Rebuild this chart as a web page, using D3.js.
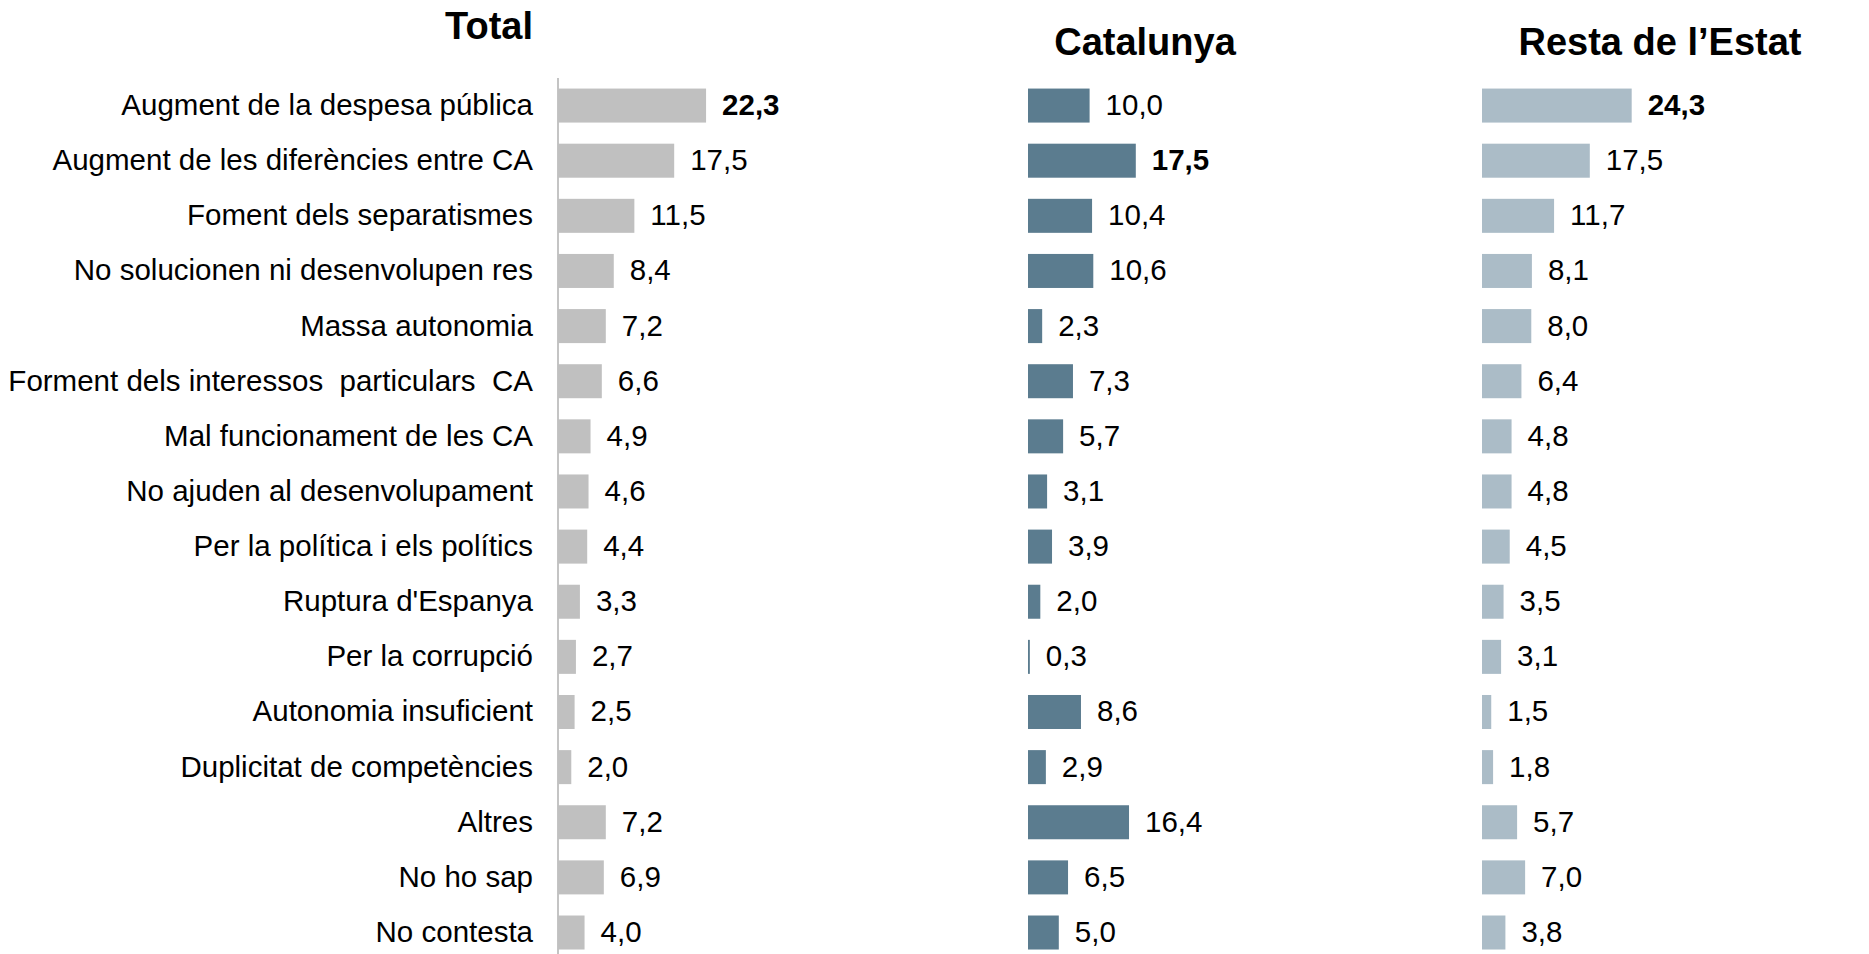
<!DOCTYPE html>
<html>
<head>
<meta charset="utf-8">
<script src="https://cdn.jsdelivr.net/npm/d3@7"></script>
<style>
  body { margin: 0; background: #fff; }
  svg text { font-family: "Liberation Sans", Arial, sans-serif; fill: #000; white-space: pre; }
</style>
</head>
<body>
<div id="chart"></div>
<script>
const width = 1869, height = 954;

const categories = [
  "Augment de la despesa pública",
  "Augment de les diferències entre CA",
  "Foment dels separatismes",
  "No solucionen ni desenvolupen res",
  "Massa autonomia",
  "Forment dels interessos  particulars  CA",
  "Mal funcionament de les CA",
  "No ajuden al desenvolupament",
  "Per la política i els polítics",
  "Ruptura d'Espanya",
  "Per la corrupció",
  "Autonomia insuficient",
  "Duplicitat de competències",
  "Altres",
  "No ho sap",
  "No contesta"
];

const totalValues     = [22.3, 17.5, 11.5, 8.4, 7.2, 6.6, 4.9, 4.6, 4.4, 3.3, 2.7, 2.5, 2.0, 7.2, 6.9, 4.0];
const catalunyaValues = [10.0, 17.5, 10.4, 10.6, 2.3, 7.3, 5.7, 3.1, 3.9, 2.0, 0.3, 8.6, 2.9, 16.4, 6.5, 5.0];
const restaValues     = [24.3, 17.5, 11.7, 8.1, 8.0, 6.4, 4.8, 4.8, 4.5, 3.5, 3.1, 1.5, 1.8, 5.7, 7.0, 3.8];

const panelTitles = ["Total", "Catalunya", "Resta de l\u2019Estat"];

// layout of the three panels
const panels = [
  {title: panelTitles[0], values: totalValues,     x0: 558,  w: 166, color: "#c0c0c0", gap: 16, tx: 533,  ty: 39, anchor: "end"},
  {title: panelTitles[1], values: catalunyaValues, x0: 1028, w: 154, color: "#5b7c8f", gap: 16, tx: 1145, ty: 55, anchor: "middle"},
  {title: panelTitles[2], values: restaValues,     x0: 1482, w: 154, color: "#abbcc7", gap: 16, tx: 1660, ty: 55, anchor: "middle"}
];

const fmt = d3.formatLocale({decimal: ",", thousands: ".", grouping: [3], currency: ["", "€"]}).format(".1f");

let svg = d3.select("#chart")
    .append("svg")
    .attr("width", width)
    .attr("height", height);

let y = d3.scaleBand()
    .domain(categories)
    .range([78, 78 + 55.13 * categories.length])
    .paddingInner(0.383)
    .paddingOuter(0.383 / 2);

// category labels
svg.append("g")
    .selectAll("text")
    .data(categories)
    .enter()
    .append("text")
    .attr("x", 533)
    .attr("y", d => y(d) + y.bandwidth() / 2)
    .attr("dy", "0.32em")
    .style("text-anchor", "end")
    .style("font-size", "29.5px")
    .text(d => d);

// axis line of Total panel
svg.append("line")
    .attr("x1", 558).attr("x2", 558)
    .attr("y1", 78).attr("y2", height)
    .attr("stroke", "#c4c4c4")
    .attr("stroke-width", 2);

panels.forEach(p => {
  let x = d3.scaleLinear().domain([0, 25]).range([0, p.w]);
  let maxV = d3.max(p.values);
  let data = categories.map((c, i) => ({cat: c, v: p.values[i]}));
  let g = svg.append("g").attr("transform", `translate(${p.x0}, 0)`);

  g.append("text")
      .attr("x", p.tx - p.x0)
      .attr("y", p.ty)
      .style("text-anchor", p.anchor)
      .style("font-size", "38px")
      .style("font-weight", "bold")
      .text(p.title);

  g.selectAll("rect")
      .data(data)
      .enter()
      .append("rect")
      .attr("x", x(0))
      .attr("y", d => y(d.cat))
      .attr("width", d => x(d.v))
      .attr("height", y.bandwidth())
      .attr("fill", p.color);

  g.selectAll("text.val")
      .data(data)
      .enter()
      .append("text")
      .attr("class", "val")
      .attr("x", d => x(d.v) + p.gap)
      .attr("y", d => y(d.cat) + y.bandwidth() / 2)
      .attr("dy", "0.32em")
      .style("font-size", "29.5px")
      .style("font-weight", d => d.v === maxV ? "bold" : "normal")
      .text(d => fmt(d.v));
});
</script>
</body>
</html>
